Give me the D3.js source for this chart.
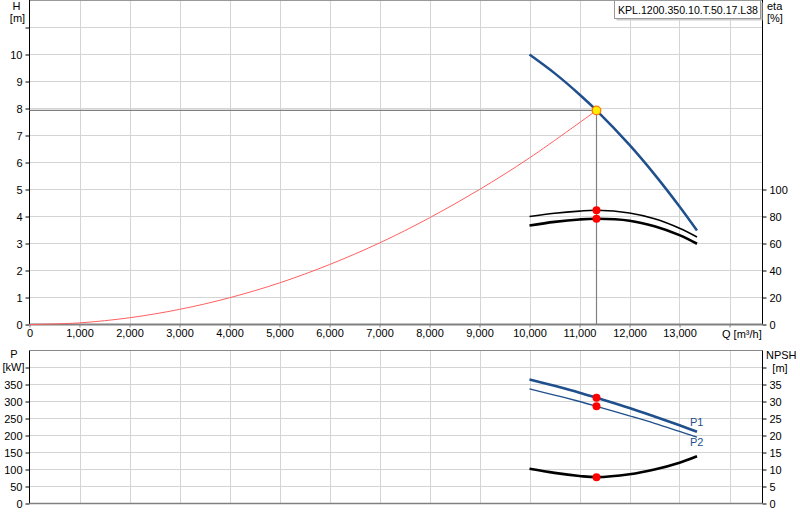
<!DOCTYPE html>
<html>
<head>
<meta charset="utf-8">
<script src="https://cdn.jsdelivr.net/npm/d3@7"></script>
<style>
  body {margin: 0; background: #fff;}
  text {font-family: "Liberation Sans", Arial, sans-serif; font-size: 11px; fill: #000;}
  .grid line {stroke: #d4d4d4; stroke-width: 1;}
</style>
</head>
<body>
<script>
// 读数 (from the picture)
const qTicks = [0, 1000, 2000, 3000, 4000, 5000, 6000, 7000, 8000, 9000, 10000, 11000, 12000, 13000, 14000]
const hTicks = [0, 1, 2, 3, 4, 5, 6, 7, 8, 9, 10, 11]
const etaTicks = [0, 20, 40, 60, 80, 100]
const pTicks = [0, 50, 100, 150, 200, 250, 300, 350, 400]
const npshTicks = [0, 5, 10, 15, 20, 25, 30, 35, 40]

const qPump = [10000, 10500, 11000, 11340, 12000, 12500, 13000, 13350]
const head = [10, 9.31, 8.52, 7.93, 6.65, 5.56, 4.37, 3.48]
const eta1 = [80, 82.4, 84, 84.6, 82.6, 78.3, 71.3, 64.8]
const eta2 = [73.3, 76, 77.8, 78.3, 76.9, 72.8, 66.2, 59.8]
const p1 = [365, 346, 326, 311, 281, 256, 230, 211]
const p2 = [337, 319, 300, 286, 258, 236, 212, 195]
const npsh = [10.2, 9.0, 8.1, 7.75, 8.6, 10.0, 12.0, 13.9]

const qSys = [0, 1000, 2000, 3000, 4000, 5000, 6000, 7000, 8000, 9000, 10000, 11340]
const hSys = [0, 0.06, 0.25, 0.56, 0.99, 1.54, 2.22, 3.02, 3.95, 5.0, 6.17, 7.93]

const op = {q: 11340, h: 7.93, eta1: 84.6, eta2: 78.3, p1: 311, p2: 286, npsh: 7.75}
const pumpName = 'KPL.1200.350.10.T.50.17.L38'

const svg = d3.select('body').append('svg').attr('width', 800).attr('height', 520)

const left = 29.5, right = 762.5
const x = d3.scaleLinear().domain([0, 14660]).range([left, right])
const yH = d3.scaleLinear().domain([0, 12]).range([324.5, 0.5])
const yEta = d3.scaleLinear().domain([0, 240]).range([324.5, 0.5])
const yP = d3.scaleLinear().domain([0, 450]).range([503.5, 350.5])
const yN = d3.scaleLinear().domain([0, 45]).range([503.5, 350.5])

const fmt = d3.format(',')
const blue = '#1f4f8c'

// 网格
function grid (yScale, yVals, y0, y1) {
  const g = svg.append('g').attr('class', 'grid')
  g.selectAll('.v').data(qTicks.slice(1)).enter().append('line')
    .attr('x1', d => Math.round(x(d)) + 0.5).attr('x2', d => Math.round(x(d)) + 0.5)
    .attr('y1', y0).attr('y2', y1)
  g.selectAll('.h').data(yVals.slice(1)).enter().append('line')
    .attr('x1', left).attr('x2', right)
    .attr('y1', d => Math.round(yScale(d) - 0.5) + 0.5).attr('y2', d => Math.round(yScale(d) - 0.5) + 0.5)
}
grid(yH, hTicks, yH(12), yH(0))
grid(yP, pTicks, yP(450), yP(0))

// 边框
svg.append('line').attr('x1', left).attr('x2', right).attr('y1', 0.5).attr('y2', 0.5).attr('stroke', '#999')
svg.append('line').attr('x1', left).attr('x2', right).attr('y1', 350.5).attr('y2', 350.5).attr('stroke', '#888')

// 坐标轴
function axis (gen, tx, scale, vals, labels) {
  const g = svg.append('g').attr('transform', `translate(${tx},0)`)
    .call(gen(scale).tickValues(vals).tickSize(4).tickPadding(3)
      .tickFormat(d => labels.includes(d) ? fmt(d) : ''))
  g.selectAll('text').style('font-size', '11px')
  return g
}
const axH = axis(d3.axisLeft, left, yH, hTicks, hTicks.slice(0, 11))
const axEta = axis(d3.axisRight, right, yEta, etaTicks, etaTicks)
const axP = axis(d3.axisLeft, left, yP, pTicks, pTicks.slice(0, 8))
const axN = axis(d3.axisRight, right, yN, npshTicks, npshTicks.slice(0, 8))
axH.select('.domain').attr('d', 'M0,0V324.5')
axP.select('.domain').attr('d', 'M0,350.5V503.5')
axEta.select('.domain').attr('d', 'M0,0V324.5')
axN.select('.domain').attr('d', 'M0,350.5V503.5')

const axQ = svg.append('g').attr('transform', 'translate(0,324.5)')
  .call(d3.axisBottom(x).tickValues(qTicks).tickSize(3).tickPadding(2)
    .tickFormat(d => d < 14000 ? fmt(d) : ''))
axQ.select('.domain').attr('stroke', '#808080').attr('stroke-width', 2).attr('d', `M${left},0H${right}`)
axQ.selectAll('.tick line').attr('stroke', '#808080')
axQ.selectAll('text').style('font-size', '11px')

const axQ2 = svg.append('g').attr('transform', 'translate(0,503.5)')
  .call(d3.axisBottom(x).tickValues(qTicks).tickSize(0).tickFormat(''))
axQ2.select('.domain').attr('stroke', '#808080').attr('stroke-width', 1.5).attr('d', `M${left},0H${right}`)

// 轴标题
function label (txt, lx, ly, anchor) {
  svg.append('text').attr('x', lx).attr('y', ly).attr('text-anchor', anchor || 'middle').text(txt)
}
label('H', 16.5, 10)
label('[m]', 17.5, 22)
label('eta', 767, 10, 'start')
label('[%]', 767, 22, 'start')
label('P', 14, 358)
label('[kW]', 13.5, 371)
label('NPSH', 766, 359, 'start')
label('[m]', 780, 372)
label('Q [m³/h]', 722, 338, 'start')

// 工作点辅助线
svg.append('line').attr('x1', left).attr('x2', x(op.q)).attr('y1', yH(op.h)).attr('y2', yH(op.h))
  .attr('stroke', '#808080').attr('stroke-width', 1.2)
svg.append('line').attr('x1', x(op.q)).attr('x2', x(op.q)).attr('y1', yH(op.h)).attr('y2', yH(0))
  .attr('stroke', '#808080').attr('stroke-width', 1.2)

// 曲线
function curve (qs, vs, yScale, color, w) {
  const line = d3.line().x((d, i) => x(qs[i])).y(d => yScale(d)).curve(d3.curveCatmullRom.alpha(0.5))
  svg.append('path').datum(vs).attr('d', line).attr('fill', 'none')
    .attr('stroke', color).attr('stroke-width', w)
}
curve(qSys, hSys, yH, '#ff6060', 1)
curve(qPump, head, yH, blue, 2.5)
curve(qPump, eta1, yEta, '#000', 1.6)
curve(qPump, eta2, yEta, '#000', 2.6)
curve(qPump, p1, yP, blue, 2.6)
curve(qPump, p2, yP, blue, 1.3)
curve(qPump, npsh, yN, '#000', 2.6)

// 点
const dots = [[yEta, op.eta1], [yEta, op.eta2], [yP, op.p1], [yP, op.p2], [yN, op.npsh]]
svg.selectAll('.dot').data(dots).enter().append('circle')
  .attr('cx', x(op.q)).attr('cy', d => d[0](d[1])).attr('r', 4).attr('fill', '#ff0000')
svg.append('circle').attr('cx', x(op.q)).attr('cy', yH(op.h)).attr('r', 4.3)
  .attr('fill', '#ffee00').attr('stroke', '#ff7a00').attr('stroke-width', 1.3)

svg.append('text').attr('x', 690).attr('y', 426).style('fill', blue).text('P1')
svg.append('text').attr('x', 690).attr('y', 446).style('fill', blue).text('P2')

// 名称框
svg.append('rect').attr('x', 616.5).attr('y', 2.5).attr('width', 146).attr('height', 18).attr('fill', '#ccc')
svg.append('rect').attr('x', 614.5).attr('y', 0.5).attr('width', 146).attr('height', 18)
  .attr('fill', '#fff').attr('stroke', '#999')
svg.append('text').attr('x', 618).attr('y', 13.5)
  .attr('textLength', 140).attr('lengthAdjust', 'spacingAndGlyphs').text(pumpName)
</script>
</body>
</html>
